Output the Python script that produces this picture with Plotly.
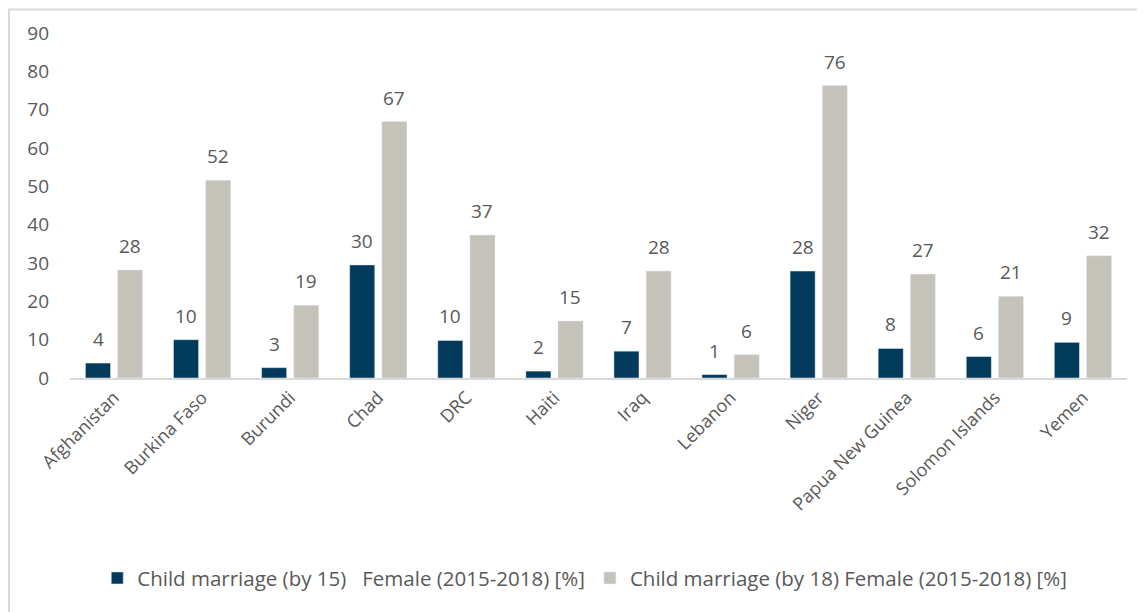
import plotly.graph_objects as go

countries = ["Afghanistan", "Burkina Faso", "Burundi", "Chad", "DRC", "Haiti", "Iraq",
             "Lebanon", "Niger", "Papua New Guinea", "Solomon Islands", "Yemen"]
by15 = [3.9, 10.0, 2.7, 29.5, 9.8, 1.8, 7.0, 0.9, 27.9, 7.7, 5.6, 9.3]
by18 = [28.2, 51.6, 19.0, 66.9, 37.3, 14.9, 27.9, 6.1, 76.3, 27.1, 21.3, 31.9]
name15 = "Child marriage (by 15)   Female (2015-2018) [%]"
name18 = "Child marriage (by 18) Female (2015-2018) [%]"
yticks = [0, 10, 20, 30, 40, 50, 60, 70, 80, 90]

FONT = "Open Sans"
TXT = "#595959"

fig = go.Figure()
fig.add_trace(go.Bar(x=countries, y=by15, name=name15, marker_color="#023a5c"))
fig.add_trace(go.Bar(x=countries, y=by18, name=name18, marker_color="#c5c2ba"))

annotations = []
for series, shift in ((by15, -16), (by18, 16)):
    for c, v in zip(countries, series):
        annotations.append(dict(x=c, y=v, xref="x", yref="y", text=f"{v:.0f}",
                                showarrow=False, xshift=shift, yshift=9, yanchor="bottom",
                                font=dict(size=19, color=TXT, family=FONT)))

fig.update_layout(
    width=1145, height=612,
    margin=dict(l=62, r=26, t=25, b=242),
    paper_bgcolor="white", plot_bgcolor="white",
    barmode="group", bargap=0.27, bargroupgap=0.22,
    font=dict(family=FONT, color=TXT, size=19),
    showlegend=True,
    legend=dict(orientation="h", x=0.487, xanchor="center", y=-0.58, yanchor="middle",
                font=dict(size=20.5, color=TXT, family=FONT), itemwidth=30,
                traceorder="normal"),
    xaxis=dict(tickangle=-45, showline=True, linecolor="#d9d9d9", linewidth=2,
               ticks="", automargin=False, tickfont=dict(size=18, color=TXT, family=FONT)),
    yaxis=dict(range=[0, 90], tickvals=yticks, showgrid=False, zeroline=False,
               showline=False, ticks="", automargin=False, ticklabelstandoff=20,
               tickfont=dict(size=19, color=TXT, family=FONT)),
    annotations=annotations,
    shapes=[dict(type="rect", xref="paper", yref="paper",
                 x0=-0.0577, x1=1.03, y0=-0.75, y1=1.068,
                 line=dict(color="#d9d9d9", width=2), fillcolor="rgba(0,0,0,0)", layer="below")],
)

fig.write_html("out.html")
